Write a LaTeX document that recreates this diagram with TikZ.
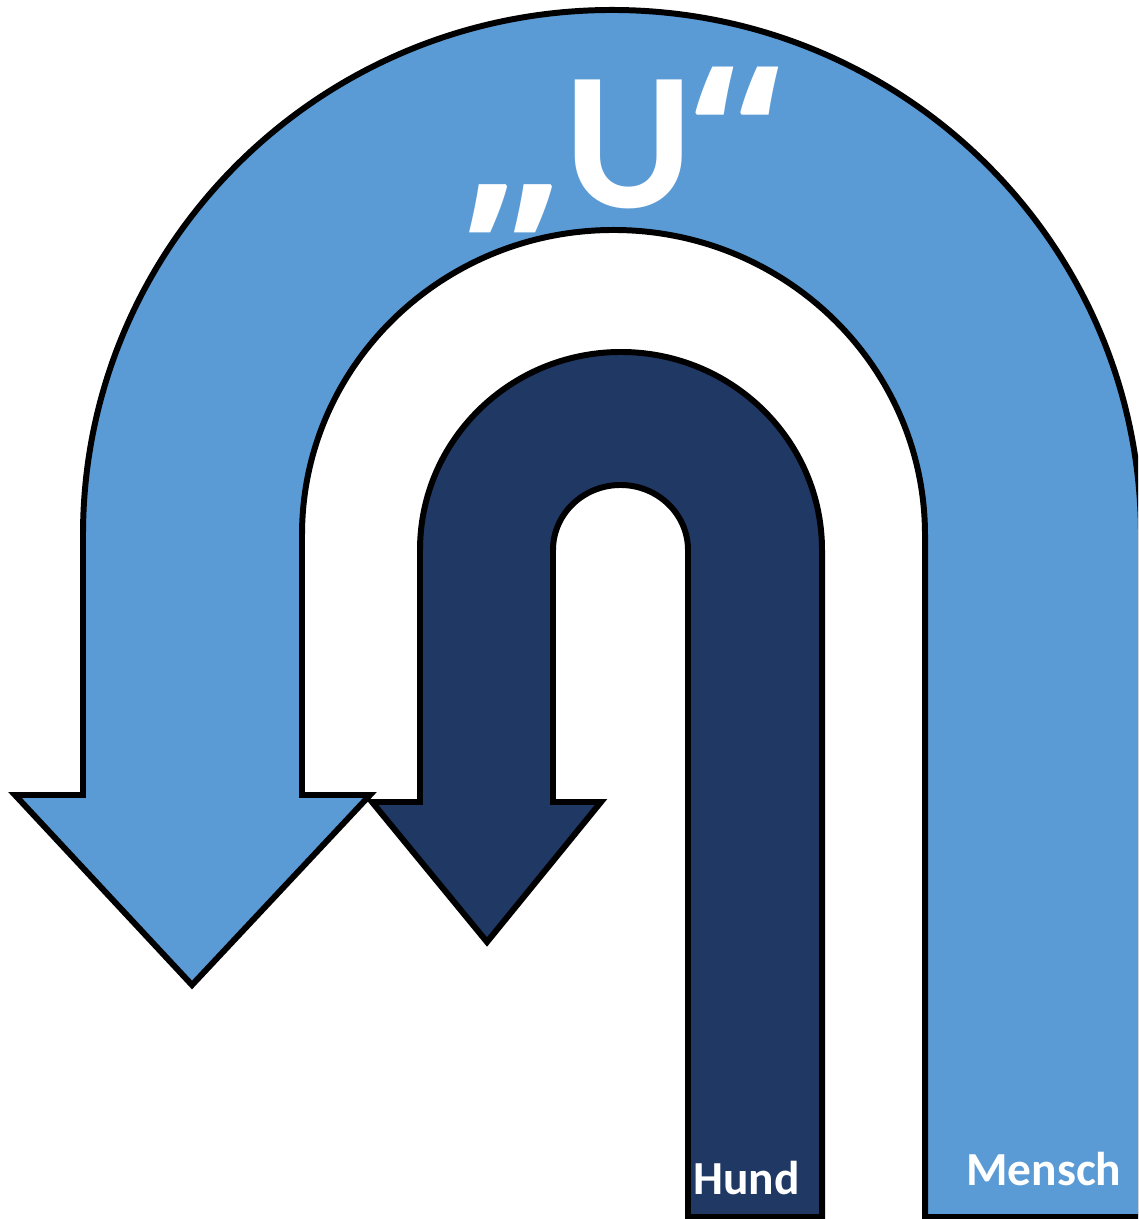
\documentclass[tikz,border=0pt]{standalone}
\usepackage{fontspec}
\setmainfont{Carlito}
\newfontfamily\quotefont{Open Sans}
\definecolor{lightblue}{RGB}{91,155,213}
\definecolor{darkblue}{RGB}{31,56,100}
\usepackage{tikz}
\usetikzlibrary{positioning}

\begin{document}
\begin{tikzpicture}[
    x=0.02cm, y=0.02cm,
    uturn/.style={draw=black, line width=3.4pt, line join=miter},
    lab/.style={text=white, font=\bfseries\fontsize{27}{27}\selectfont, inner sep=0pt}
]

% --- Rahmen ---
\useasboundingbox (0,0) rectangle (1138,1219);
\clip (0,0) rectangle (1138,1219);

% --- Großes U (Mensch) ---
\draw[uturn, fill=lightblue] (302,424) -- (302,684)
    arc[start angle=180, end angle=0, x radius=311.5, y radius=305] -- (925,2)
    -- (1141,2) -- (1141,684)
    arc[start angle=0, end angle=180, x radius=529, y radius=525] -- (83,424)
    -- (15,424) -- (192,234) -- (370,424) -- cycle;

% --- Kleines U (Hund) ---
\draw[uturn, fill=darkblue] (553,417) -- (553,669)
    arc[start angle=180, end angle=0, x radius=67.5, y radius=65] -- (688,2)
    -- (822,2) -- (822,669)
    arc[start angle=0, end angle=180, x radius=201, y radius=198] -- (420,417)
    -- (372,417) -- (487,277) -- (601,417) -- cycle;

% --- Beschriftung ---
\node[text=white, font=\bfseries\fontsize{112}{112}\selectfont, inner sep=0pt, anchor=base]
    (titel) at (622,1011) {{\quotefont„}U{\quotefont“}};
\node[lab, anchor=base west] (hund)   at (693,24) {Hund};
\node[lab, anchor=base west] (mensch) at (966,33) {Mensch};

\end{tikzpicture}
\end{document}
